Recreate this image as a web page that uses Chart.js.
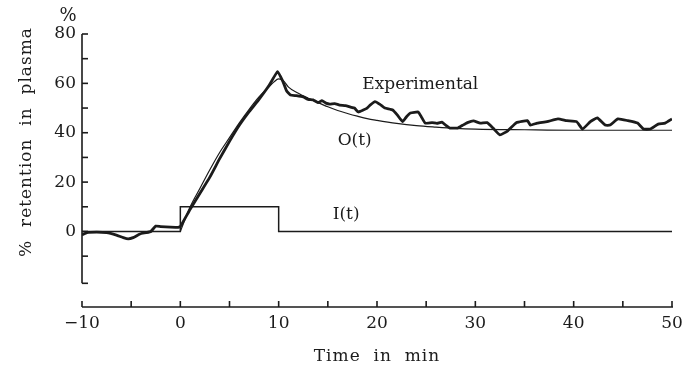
<!DOCTYPE html>
<html><head><meta charset="utf-8">
<script src="https://cdn.jsdelivr.net/npm/chart.js@4.4.1/dist/chart.umd.min.js"></script>
<style>html,body{margin:0;padding:0;background:#fff}</style>
</head><body>
<canvas id="c" width="696" height="376"></canvas>
<script>
// ---- data ----
const expTime  = [-10,-9.5,-8.5,-7.5,-6.5,-5.8,-5.3,-4.8,-4.1,-3.5,-3,-2.5,-2,-1,-0.2,0,
  1,2,3,4,5,6,7,8,9,9.9,10.4,10.8,11.2,11.8,12.5,13,13.5,14,14.4,14.8,15.2,15.7,16.2,16.8,17.3,17.7,18.1,18.6,19,19.3,19.8,
  20.3,20.8,21.6,22.1,22.6,23,23.4,24.2,24.5,24.9,25.6,26.1,26.6,27,27.4,28.2,28.7,29.2,29.8,30.5,31.2,31.8,32.5,33.3,34.2,35.3,35.6,36.3,37.3,38.4,39.3,
  40.3,40.9,41.7,42.4,43.2,43.7,44.5,45.5,46.5,47.1,47.8,48.6,49.3,50];
const expValue = [-1.4,-0.5,-0.3,-0.5,-1.5,-2.5,-3,-2.5,-1,-0.5,0,2.2,2,1.8,1.7,2,
  9,15.5,22,29.5,36.5,43,48.5,53.5,59,64.8,61,57,55.3,55,54.5,53.5,53.3,52.2,53,52,51.6,51.8,51.2,51,50.4,50,48.4,49.2,50,51.2,52.6,
  51.5,50,49.2,47,44.5,46.5,48,48.4,46.5,43.9,44.1,43.8,44.3,43,41.9,41.9,43,44.1,44.8,43.9,44.1,41.9,39.1,40.8,44.1,44.9,43.1,43.9,44.5,45.6,44.9,
  44.5,41.5,44.5,46,43.1,43.1,45.6,44.9,43.9,41.5,41.5,43.5,43.9,45.6];
const modelTime  = [0,1,2,3,4,5,6,7,8,9,9.5,10,10.5,11,12,13,14,15,16,17,18,19,20,22,24,26,28,30,35,40,45,50];
const modelValue = [0,10,17.5,25,32,38,44,49.5,54.5,58.5,60.5,61.8,61,58.5,56,54,52.2,50.5,49,47.8,46.7,45.7,45,43.8,42.9,42.3,41.8,41.5,41.2,41,41,41];
const inputTime  = [-10,0,10,50];
const inputValue = [0,10,0,0];
const xTicks = [-10,0,10,20,30,40,50];
const xMinorTicks = [-5,5,15,25,35,45];
const yTicks = [0,20,40,60,80];
const yMinorTicks = [-10,10,30,50,70];
const yAxisBottom = -21;

const FONT = '"DejaVu Serif", "Liberation Serif", serif';
const INK = '#1b1b1b';
const pts = (xs, ys) => xs.map((x, i) => ({x, y: ys[i]}));

const paperPlugin = {
  id: 'paper',
  afterDatasetsDraw(chart) {
    const {ctx, scales: {x, y}} = chart;
    const x0 = x.getPixelForValue(-10), x1 = x.getPixelForValue(50);
    const yTop = y.getPixelForValue(80), yBot = y.getPixelForValue(yAxisBottom);
    const xAxisY = chart.chartArea.bottom;
    ctx.save();
    ctx.strokeStyle = INK; ctx.lineWidth = 1.6; ctx.lineCap = 'butt';
    ctx.beginPath(); ctx.moveTo(x0, yTop); ctx.lineTo(x0, yBot); ctx.stroke();
    [...yTicks, ...yMinorTicks].forEach(v => {
      const p = y.getPixelForValue(v);
      ctx.beginPath(); ctx.moveTo(x0, p); ctx.lineTo(x0 + 6, p); ctx.stroke();
    });
    ctx.beginPath(); ctx.moveTo(x0, yBot); ctx.lineTo(x0 + 6, yBot); ctx.stroke();
    ctx.beginPath(); ctx.moveTo(x0, xAxisY); ctx.lineTo(x1 + 1, xAxisY); ctx.stroke();
    [...xTicks, ...xMinorTicks].forEach(v => {
      const p = x.getPixelForValue(v);
      ctx.beginPath(); ctx.moveTo(p, xAxisY); ctx.lineTo(p, xAxisY - 6); ctx.stroke();
    });
    ctx.fillStyle = INK;
    ctx.textBaseline = 'middle';
    ctx.textAlign = 'left';
    ctx.font = '17px ' + FONT;
    ctx.fillText('Experimental', x.getPixelForValue(18.5), y.getPixelForValue(59.7));
    ctx.fillText('O(t)', x.getPixelForValue(16.0), y.getPixelForValue(37));
    ctx.fillText('I(t)', x.getPixelForValue(15.5), y.getPixelForValue(7));
    ctx.textAlign = 'center';
    ctx.font = '18px ' + FONT;
    ctx.fillText('%', x0 - 14, 16);
    ctx.save();
    ctx.translate(27, 142);
    ctx.rotate(-Math.PI / 2);
    ctx.font = '17px ' + FONT;
    ctx.letterSpacing = '1px';
    ctx.fillText('%  retention  in  plasma', 0, 0);
    ctx.restore();
    ctx.font = '17px ' + FONT;
    ctx.letterSpacing = '1px';
    ctx.fillText('Time  in  min', (x0 + x1) / 2, 357);
    ctx.restore();
  }
};

new Chart(document.getElementById('c'), {
  type: 'line',
  data: {
    datasets: [
      { label: 'Experimental', data: pts(expTime, expValue), borderColor: INK, borderWidth: 2.8,
        pointRadius: 0, tension: 0.12, fill: false },
      { label: 'O(t)', data: pts(modelTime, modelValue), borderColor: INK, borderWidth: 1.2,
        pointRadius: 0, cubicInterpolationMode: 'monotone', fill: false },
      { label: 'I(t)', data: pts(inputTime, inputValue), borderColor: INK, borderWidth: 1.5,
        pointRadius: 0, stepped: 'before', fill: false }
    ]
  },
  options: {
    responsive: false,
    animation: false,
    devicePixelRatio: 1,
    layout: { padding: { top: 34, right: 24, left: 0, bottom: 0 } },
    scales: {
      x: {
        type: 'linear', min: -10, max: 50,
        afterBuildTicks: s => { s.ticks = xTicks.map(v => ({ value: v })); },
        afterFit: s => { s.height = 69; },
        grid: { display: false, drawTicks: false },
        border: { display: false },
        ticks: { color: INK, padding: 6, maxRotation: 0, font: { family: FONT, size: 17 },
          callback: v => (v < 0 ? '\u2212' + Math.abs(v) : String(v)) }
      },
      y: {
        type: 'linear', min: -30.6, max: 80,
        afterBuildTicks: s => { s.ticks = yTicks.map(v => ({ value: v })); },
        afterFit: s => { s.width = 82; },
        grid: { display: false, drawTicks: false },
        border: { display: false },
        ticks: { color: INK, padding: 6, font: { family: FONT, size: 17 } }
      }
    },
    plugins: { legend: { display: false }, tooltip: { enabled: false } }
  },
  plugins: [paperPlugin]
});
</script>
</body></html>
